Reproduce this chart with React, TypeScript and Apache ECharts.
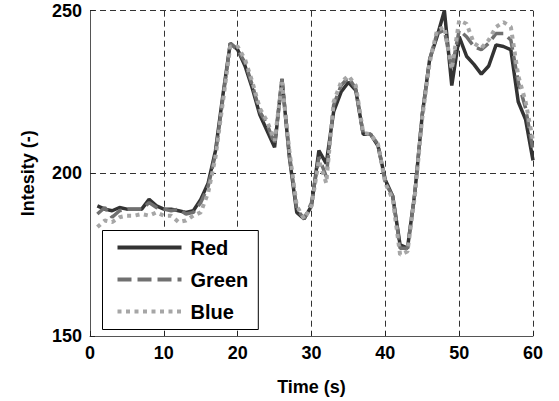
import React, { useEffect, useRef } from "react";
import * as echarts from "echarts";

const times = [
  1, 2, 3, 4, 5, 6, 7, 8, 9, 10, 11, 12, 13, 14, 15, 16, 17, 18, 19, 20,
  21, 22, 23, 24, 25, 26, 27, 28, 29, 30, 31, 32, 33, 34, 35, 36, 37, 38, 39, 40,
  41, 42, 43, 44, 45, 46, 47, 48, 49, 50, 51, 52, 53, 54, 55, 56, 57, 58, 59, 60,
];

const redValues = [
  190, 189, 188.5, 189.5, 189, 189, 189, 192, 190, 189,
  189, 188.5, 188, 188.5, 192, 197, 207, 224, 240, 238,
  233, 226, 218, 213, 208, 229, 205, 188, 186, 190,
  207, 203, 219, 225, 228, 225.5, 212, 212, 208.5, 198,
  193, 178, 177, 194, 218, 235, 242, 250, 227, 242,
  236, 233.5, 230.5, 233, 239.5, 239, 238, 222, 216.5, 204,
];

const greenValues = [
  187.5, 189.5, 186.5, 188.5, 189, 189, 189, 191, 189.5, 189,
  188.5, 189, 187.5, 188, 191, 196, 206, 223, 240, 238,
  234, 227, 219, 215, 209, 229, 206, 189, 186, 191,
  205, 199, 221, 227, 229.5, 226, 212, 212, 209, 197,
  193, 177, 177, 194, 218, 235, 243, 244, 232, 244,
  242, 239, 238, 240, 243, 243, 241, 228, 220, 207,
];

const blueValues = [
  183.5, 185.5, 185, 186.5, 187, 187, 187.5, 187, 188, 187,
  187, 185, 185.5, 187, 188, 194, 205, 222, 239, 239,
  235, 228, 220, 216, 210, 228, 207, 190, 186, 190,
  204, 197, 222, 228, 230, 227, 212.5, 212, 209, 197,
  192, 175, 176, 193, 217, 234, 244, 245, 232, 247,
  246, 240, 238.5, 241, 245, 246.5, 245, 230, 222, 210,
];

const seriesNames = ["Red", "Green", "Blue"];
const xTitle = "Time (s)";
const yTitle = "Intesity (-)";

const FONT = "Arial, 'Liberation Sans', Helvetica, sans-serif";

export default function App() {
  const ref = useRef<HTMLDivElement>(null);

  useEffect(() => {
    if (!ref.current) return;
    const chart = echarts.init(ref.current, undefined, { renderer: "svg" });
    const pair = (vals: number[]) => times.map((t, i) => [t, vals[i]]);

    const axisLabel = {
      color: "#000",
      fontFamily: FONT,
      fontWeight: "bold" as const,
      fontSize: 18,
    };

    chart.setOption({
      animation: false,
      backgroundColor: "#fff",
      grid: { left: 90, right: 26, top: 10.7, bottom: 64.3 },
      xAxis: {
        type: "value",
        min: 0,
        max: 60,
        interval: 10,
        name: xTitle,
        nameLocation: "middle",
        nameGap: 42,
        nameTextStyle: { ...axisLabel },
        axisLine: { show: true, lineStyle: { color: "#555", width: 1 } },
        axisTick: { show: true, inside: true, length: 5, lineStyle: { color: "#222" } },
        axisLabel: { ...axisLabel, margin: 8 },
        splitLine: {
          show: true,
          lineStyle: { color: "#333", width: 1, type: [6, 4] },
        },
      },
      yAxis: {
        type: "value",
        min: 150,
        max: 250,
        interval: 50,
        name: yTitle,
        nameLocation: "middle",
        nameGap: 53,
        nameTextStyle: { ...axisLabel },
        axisLine: { show: true, lineStyle: { color: "#555", width: 1 } },
        axisTick: { show: true, inside: true, length: 5, lineStyle: { color: "#222" } },
        axisLabel: { ...axisLabel, margin: 8 },
        splitLine: {
          show: true,
          lineStyle: { color: "#333", width: 1, type: [6, 4] },
        },
      },
      legend: {
        show: true,
        orient: "vertical",
        left: 102.5,
        top: 230.5,
        data: seriesNames,
        backgroundColor: "#fff",
        borderColor: "#000",
        borderWidth: 1,
        borderRadius: 0,
        padding: [7, 10, 8, 13],
        itemWidth: 64,
        itemHeight: 4,
        itemGap: 12,
        itemStyle: { opacity: 0 },
        lineStyle: { width: 4 },
        textStyle: {
          color: "#000",
          fontFamily: FONT,
          fontWeight: "bold",
          fontSize: 20,
          lineHeight: 20,
          padding: [0, 0, 0, 4],
        },
      },
      series: [
        {
          name: seriesNames[0],
          type: "line",
          data: pair(redValues),
          symbol: "none",
          color: "#333333",
          lineStyle: { color: "#333333", width: 3.5, type: "solid" },
          z: 2,
        },
        {
          name: seriesNames[1],
          type: "line",
          data: pair(greenValues),
          symbol: "none",
          color: "#707070",
          lineStyle: { color: "#707070", width: 3.5, type: [14, 6] },
          z: 3,
        },
        {
          name: seriesNames[2],
          type: "line",
          data: pair(blueValues),
          symbol: "none",
          color: "#a6a6a6",
          lineStyle: { color: "#a6a6a6", width: 4, type: [4, 4.5] },
          z: 4,
        },
      ],
    });

    return () => chart.dispose();
  }, []);

  return <div ref={ref} style={{ width: 559, height: 401, position: "absolute", left: 0, top: 0 }} />;
}
